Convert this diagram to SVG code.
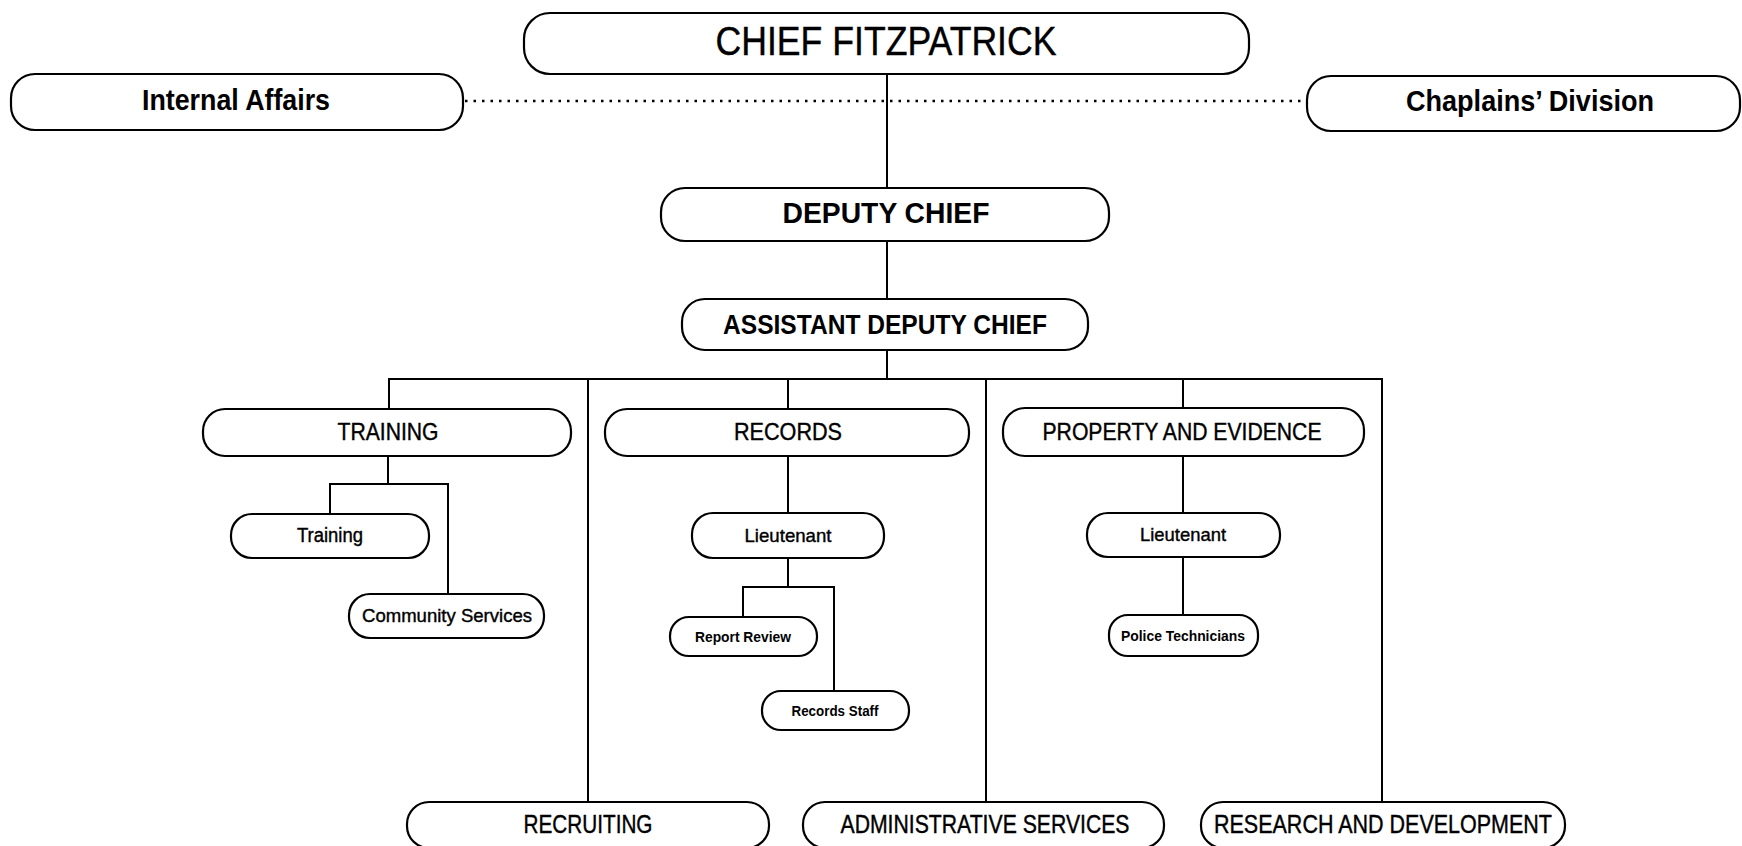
<svg xmlns="http://www.w3.org/2000/svg" width="1742" height="846" viewBox="0 0 1742 846">
<style>
.box{fill:#fff;stroke:#000;stroke-width:2.2}
.ln{fill:none;stroke:#000;stroke-width:2}
.dot{fill:none;stroke:#000;stroke-width:2.6;stroke-dasharray:2.5 6}
text{font-family:"Liberation Sans",Arial,sans-serif;text-anchor:middle;fill:#000}
.m{stroke:#000;stroke-width:0.4}
.b{font-weight:bold}
</style>
<rect width="1742" height="846" fill="#fff"/>
<g id="connectors">
<line class="dot" x1="465" y1="101" x2="1307" y2="101"/>
<line class="ln" x1="887" y1="74" x2="887" y2="188"/>
<line class="ln" x1="887" y1="241" x2="887" y2="299"/>
<line class="ln" x1="887" y1="350" x2="887" y2="379"/>
<polyline class="ln" points="389,409 389,379 1382,379 1382,802"/>
<line class="ln" x1="588" y1="379" x2="588" y2="802"/>
<line class="ln" x1="986" y1="379" x2="986" y2="802"/>
<line class="ln" x1="788" y1="379" x2="788" y2="409"/>
<line class="ln" x1="1183" y1="379" x2="1183" y2="408"/>
<line class="ln" x1="388" y1="456" x2="388" y2="484"/>
<polyline class="ln" points="330,514 330,484 448,484 448,594"/>
<line class="ln" x1="788" y1="456" x2="788" y2="513"/>
<line class="ln" x1="788" y1="558" x2="788" y2="587"/>
<polyline class="ln" points="743,617 743,587 834,587 834,691"/>
<line class="ln" x1="1183" y1="456" x2="1183" y2="513"/>
<line class="ln" x1="1183" y1="557" x2="1183" y2="615"/>
</g>
<g id="chief"><rect class="box" x="524" y="13" width="725" height="61" rx="26"/><text class="m" x="886" y="55" font-size="41" textLength="341" lengthAdjust="spacingAndGlyphs">CHIEF FITZPATRICK</text></g>
<g id="internal-affairs"><rect class="box" x="11" y="74" width="452" height="56" rx="24"/><text class="b" x="236" y="110" font-size="29" textLength="188" lengthAdjust="spacingAndGlyphs">Internal Affairs</text></g>
<g id="chaplains"><rect class="box" x="1307" y="76" width="433" height="55" rx="24"/><text class="b" x="1530" y="111" font-size="29" textLength="248" lengthAdjust="spacingAndGlyphs">Chaplains’ Division</text></g>
<g id="deputy-chief"><rect class="box" x="661" y="188" width="448" height="53" rx="24"/><text class="b" x="886" y="223" font-size="29" textLength="207" lengthAdjust="spacingAndGlyphs">DEPUTY CHIEF</text></g>
<g id="assistant-deputy-chief"><rect class="box" x="682" y="299" width="406" height="51" rx="23"/><text class="b" x="885" y="334" font-size="27" textLength="324" lengthAdjust="spacingAndGlyphs">ASSISTANT DEPUTY CHIEF</text></g>
<g id="training-div"><rect class="box" x="203" y="409" width="368" height="47" rx="22"/><text class="m" x="388" y="440" font-size="24" textLength="101" lengthAdjust="spacingAndGlyphs">TRAINING</text></g>
<g id="records-div"><rect class="box" x="605" y="409" width="364" height="47" rx="22"/><text class="m" x="788" y="440" font-size="24" textLength="108" lengthAdjust="spacingAndGlyphs">RECORDS</text></g>
<g id="property-div"><rect class="box" x="1003" y="408" width="361" height="48" rx="22"/><text class="m" x="1182" y="440" font-size="24" textLength="279" lengthAdjust="spacingAndGlyphs">PROPERTY AND EVIDENCE</text></g>
<g id="training"><rect class="box" x="231" y="514" width="198" height="44" rx="21"/><text class="m" x="330" y="542" font-size="20" textLength="66" lengthAdjust="spacingAndGlyphs">Training</text></g>
<g id="community-services"><rect class="box" x="349" y="594" width="195" height="44" rx="21"/><text class="m" x="447" y="622" font-size="19" textLength="170" lengthAdjust="spacingAndGlyphs">Community Services</text></g>
<g id="records-lieutenant"><rect class="box" x="692" y="513" width="192" height="45" rx="21"/><text class="m" x="788" y="542" font-size="19" textLength="87" lengthAdjust="spacingAndGlyphs">Lieutenant</text></g>
<g id="report-review"><rect class="box" x="670" y="617" width="147" height="39" rx="19"/><text class="b" x="743" y="642" font-size="15" textLength="96" lengthAdjust="spacingAndGlyphs">Report Review</text></g>
<g id="records-staff"><rect class="box" x="762" y="691" width="147" height="39" rx="19"/><text class="b" x="835" y="716" font-size="15" textLength="87" lengthAdjust="spacingAndGlyphs">Records Staff</text></g>
<g id="property-lieutenant"><rect class="box" x="1087" y="513" width="193" height="44" rx="21"/><text class="m" x="1183" y="541" font-size="19" textLength="86" lengthAdjust="spacingAndGlyphs">Lieutenant</text></g>
<g id="police-technicians"><rect class="box" x="1109" y="615" width="149" height="41" rx="19"/><text class="b" x="1183" y="641" font-size="15" textLength="124" lengthAdjust="spacingAndGlyphs">Police Technicians</text></g>
<g id="recruiting"><rect class="box" x="407" y="802" width="362" height="46" rx="22"/><text class="m" x="588" y="833" font-size="25" textLength="129" lengthAdjust="spacingAndGlyphs">RECRUITING</text></g>
<g id="administrative-services"><rect class="box" x="803" y="802" width="361" height="46" rx="22"/><text class="m" x="985" y="833" font-size="25" textLength="289" lengthAdjust="spacingAndGlyphs">ADMINISTRATIVE SERVICES</text></g>
<g id="research-development"><rect class="box" x="1201" y="802" width="364" height="46" rx="22"/><text class="m" x="1383" y="833" font-size="25" textLength="338" lengthAdjust="spacingAndGlyphs">RESEARCH AND DEVELOPMENT</text></g>
</svg>
